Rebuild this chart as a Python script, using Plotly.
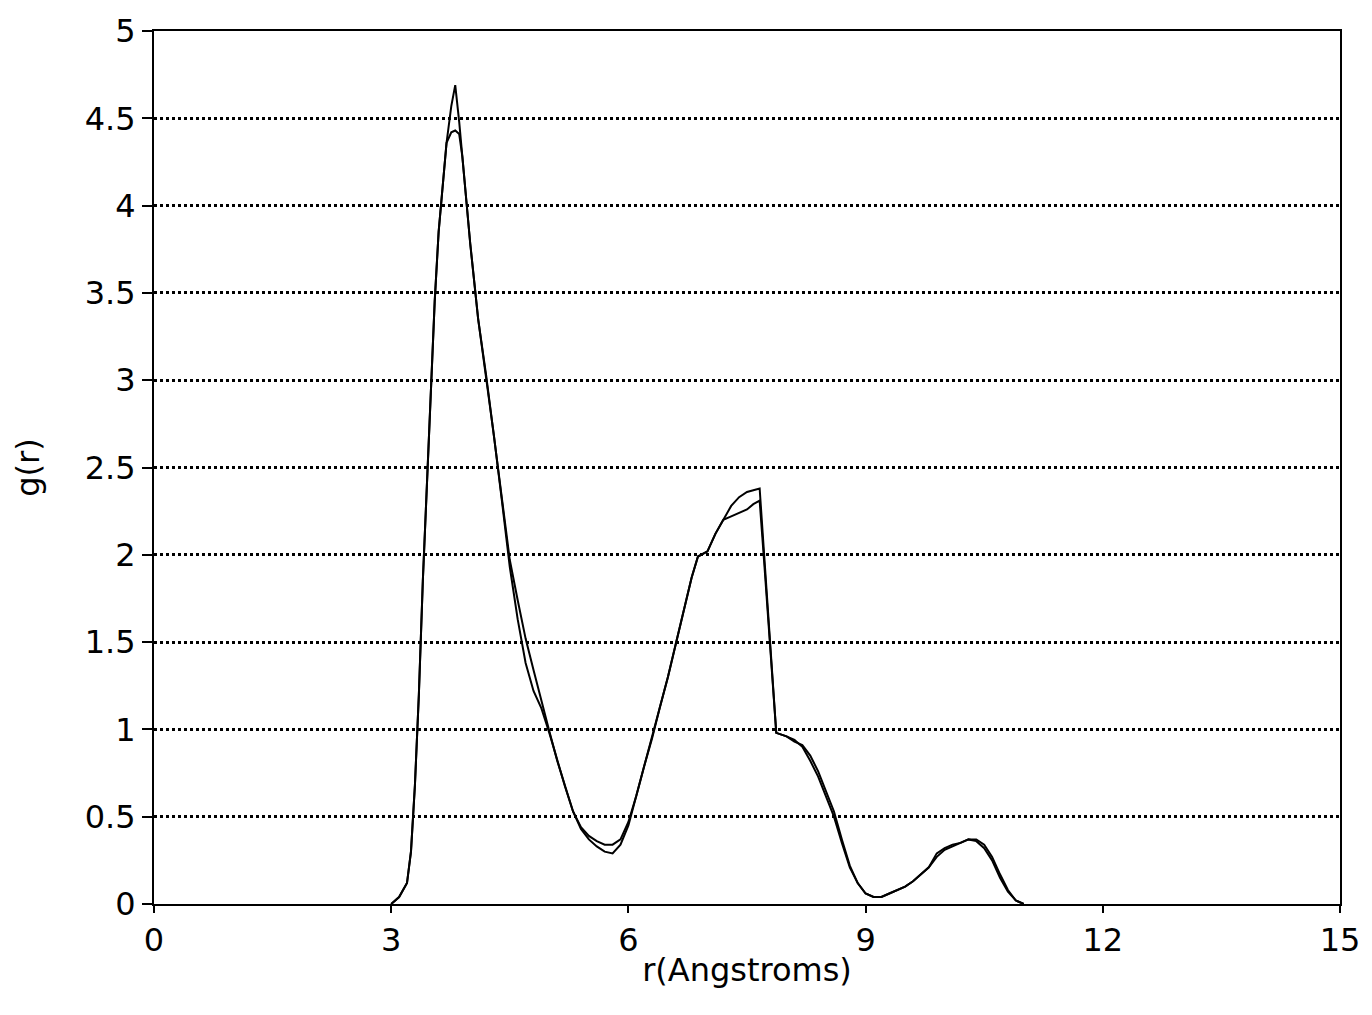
import plotly.graph_objects as go

# r (Angstroms) sample positions shared by both curves
r = [3.0, 3.1, 3.2, 3.25, 3.3, 3.35, 3.4, 3.45, 3.5, 3.55, 3.6, 3.65, 3.7, 3.76,
     3.81, 3.86, 3.9, 4.0, 4.1, 4.2, 4.3, 4.4, 4.5, 4.6, 4.7, 4.8, 4.9, 5.0, 5.1,
     5.2, 5.3, 5.4, 5.5, 5.6, 5.7, 5.8, 5.9, 6.0, 6.1, 6.2, 6.3, 6.4, 6.5, 6.6,
     6.7, 6.8, 6.88, 7.0, 7.1, 7.2, 7.3, 7.4, 7.5, 7.58, 7.66, 7.72, 7.8, 7.87,
     8.0, 8.1, 8.2, 8.3, 8.4, 8.5, 8.6, 8.7, 8.8, 8.9, 9.0, 9.1, 9.2, 9.3, 9.4,
     9.5, 9.6, 9.7, 9.8, 9.9, 10.0, 10.1, 10.2, 10.3, 10.4, 10.5, 10.6, 10.7,
     10.8, 10.9, 11.0]

# g(r), curve with the taller first peak
g_a = [0.0, 0.04, 0.12, 0.3, 0.68, 1.2, 1.85, 2.4, 2.9, 3.45, 3.85, 4.12, 4.36, 4.57,
       4.69, 4.48, 4.28, 3.78, 3.35, 3.03, 2.68, 2.31, 1.93, 1.63, 1.38, 1.22, 1.12,
       0.98, 0.82, 0.67, 0.53, 0.43, 0.37, 0.33, 0.30, 0.29, 0.34, 0.45, 0.62, 0.79,
       0.95, 1.13, 1.30, 1.49, 1.68, 1.87, 1.99, 2.02, 2.12, 2.20, 2.28, 2.33, 2.36,
       2.37, 2.38, 1.98, 1.45, 0.98, 0.96, 0.94, 0.90, 0.82, 0.73, 0.62, 0.50, 0.35,
       0.21, 0.12, 0.06, 0.04, 0.04, 0.06, 0.08, 0.10, 0.13, 0.17, 0.21, 0.27, 0.31,
       0.33, 0.35, 0.37, 0.36, 0.32, 0.25, 0.15, 0.07, 0.02, 0.0]

# g(r), curve with the lower first peak
g_b = [0.0, 0.04, 0.12, 0.3, 0.68, 1.2, 1.85, 2.4, 2.9, 3.45, 3.85, 4.12, 4.36, 4.42,
       4.43, 4.41, 4.28, 3.78, 3.35, 3.03, 2.68, 2.31, 1.97, 1.74, 1.52, 1.34, 1.16,
       0.99, 0.82, 0.67, 0.53, 0.44, 0.39, 0.36, 0.34, 0.34, 0.37, 0.47, 0.62, 0.79,
       0.95, 1.13, 1.30, 1.49, 1.68, 1.87, 1.99, 2.02, 2.12, 2.20, 2.22, 2.24, 2.26,
       2.29, 2.31, 1.94, 1.42, 0.98, 0.96, 0.93, 0.91, 0.85, 0.76, 0.65, 0.53, 0.37,
       0.22, 0.12, 0.06, 0.04, 0.04, 0.06, 0.08, 0.10, 0.13, 0.17, 0.21, 0.29, 0.32,
       0.34, 0.35, 0.37, 0.37, 0.34, 0.27, 0.17, 0.08, 0.02, 0.0]

x_ticks = [0, 3, 6, 9, 12, 15]
y_ticks = [0, 0.5, 1, 1.5, 2, 2.5, 3, 3.5, 4, 4.5, 5]
y_tick_labels = ["0", "0.5", "1", "1.5", "2", "2.5", "3", "3.5", "4", "4.5", "5"]

fig = go.Figure()
for g in (g_a, g_b):
    fig.add_trace(go.Scatter(x=r, y=g, mode="lines",
                             line=dict(color="black", width=2),
                             showlegend=False, hoverinfo="skip"))

font = dict(family="DejaVu Sans", size=32, color="black")
fig.update_layout(
    width=1372, height=1015,
    margin=dict(l=154, r=31, t=29, b=111),
    paper_bgcolor="white", plot_bgcolor="white",
    font=font,
)
fig.update_xaxes(
    range=[0, 15], tickvals=x_ticks, ticktext=[str(t) for t in x_ticks],
    showgrid=False, zeroline=False,
    showline=True, linecolor="black", linewidth=2, mirror=True,
    ticks="outside", ticklen=7, tickwidth=2, tickcolor="black",
    title=dict(text="r(Angstroms)", font=font, standoff=0),
    tickfont=font,
)
fig.update_yaxes(
    range=[0, 5], tickvals=y_ticks, ticktext=y_tick_labels,
    showgrid=True, gridcolor="black", gridwidth=2.5, griddash="dot",
    zeroline=False,
    showline=True, linecolor="black", linewidth=2, mirror=True,
    ticks="outside", ticklen=10, tickwidth=2, tickcolor="black",
    title=dict(text="g(r)", font=font, standoff=36),
    tickfont=font,
)
fig.write_html("out.html")
